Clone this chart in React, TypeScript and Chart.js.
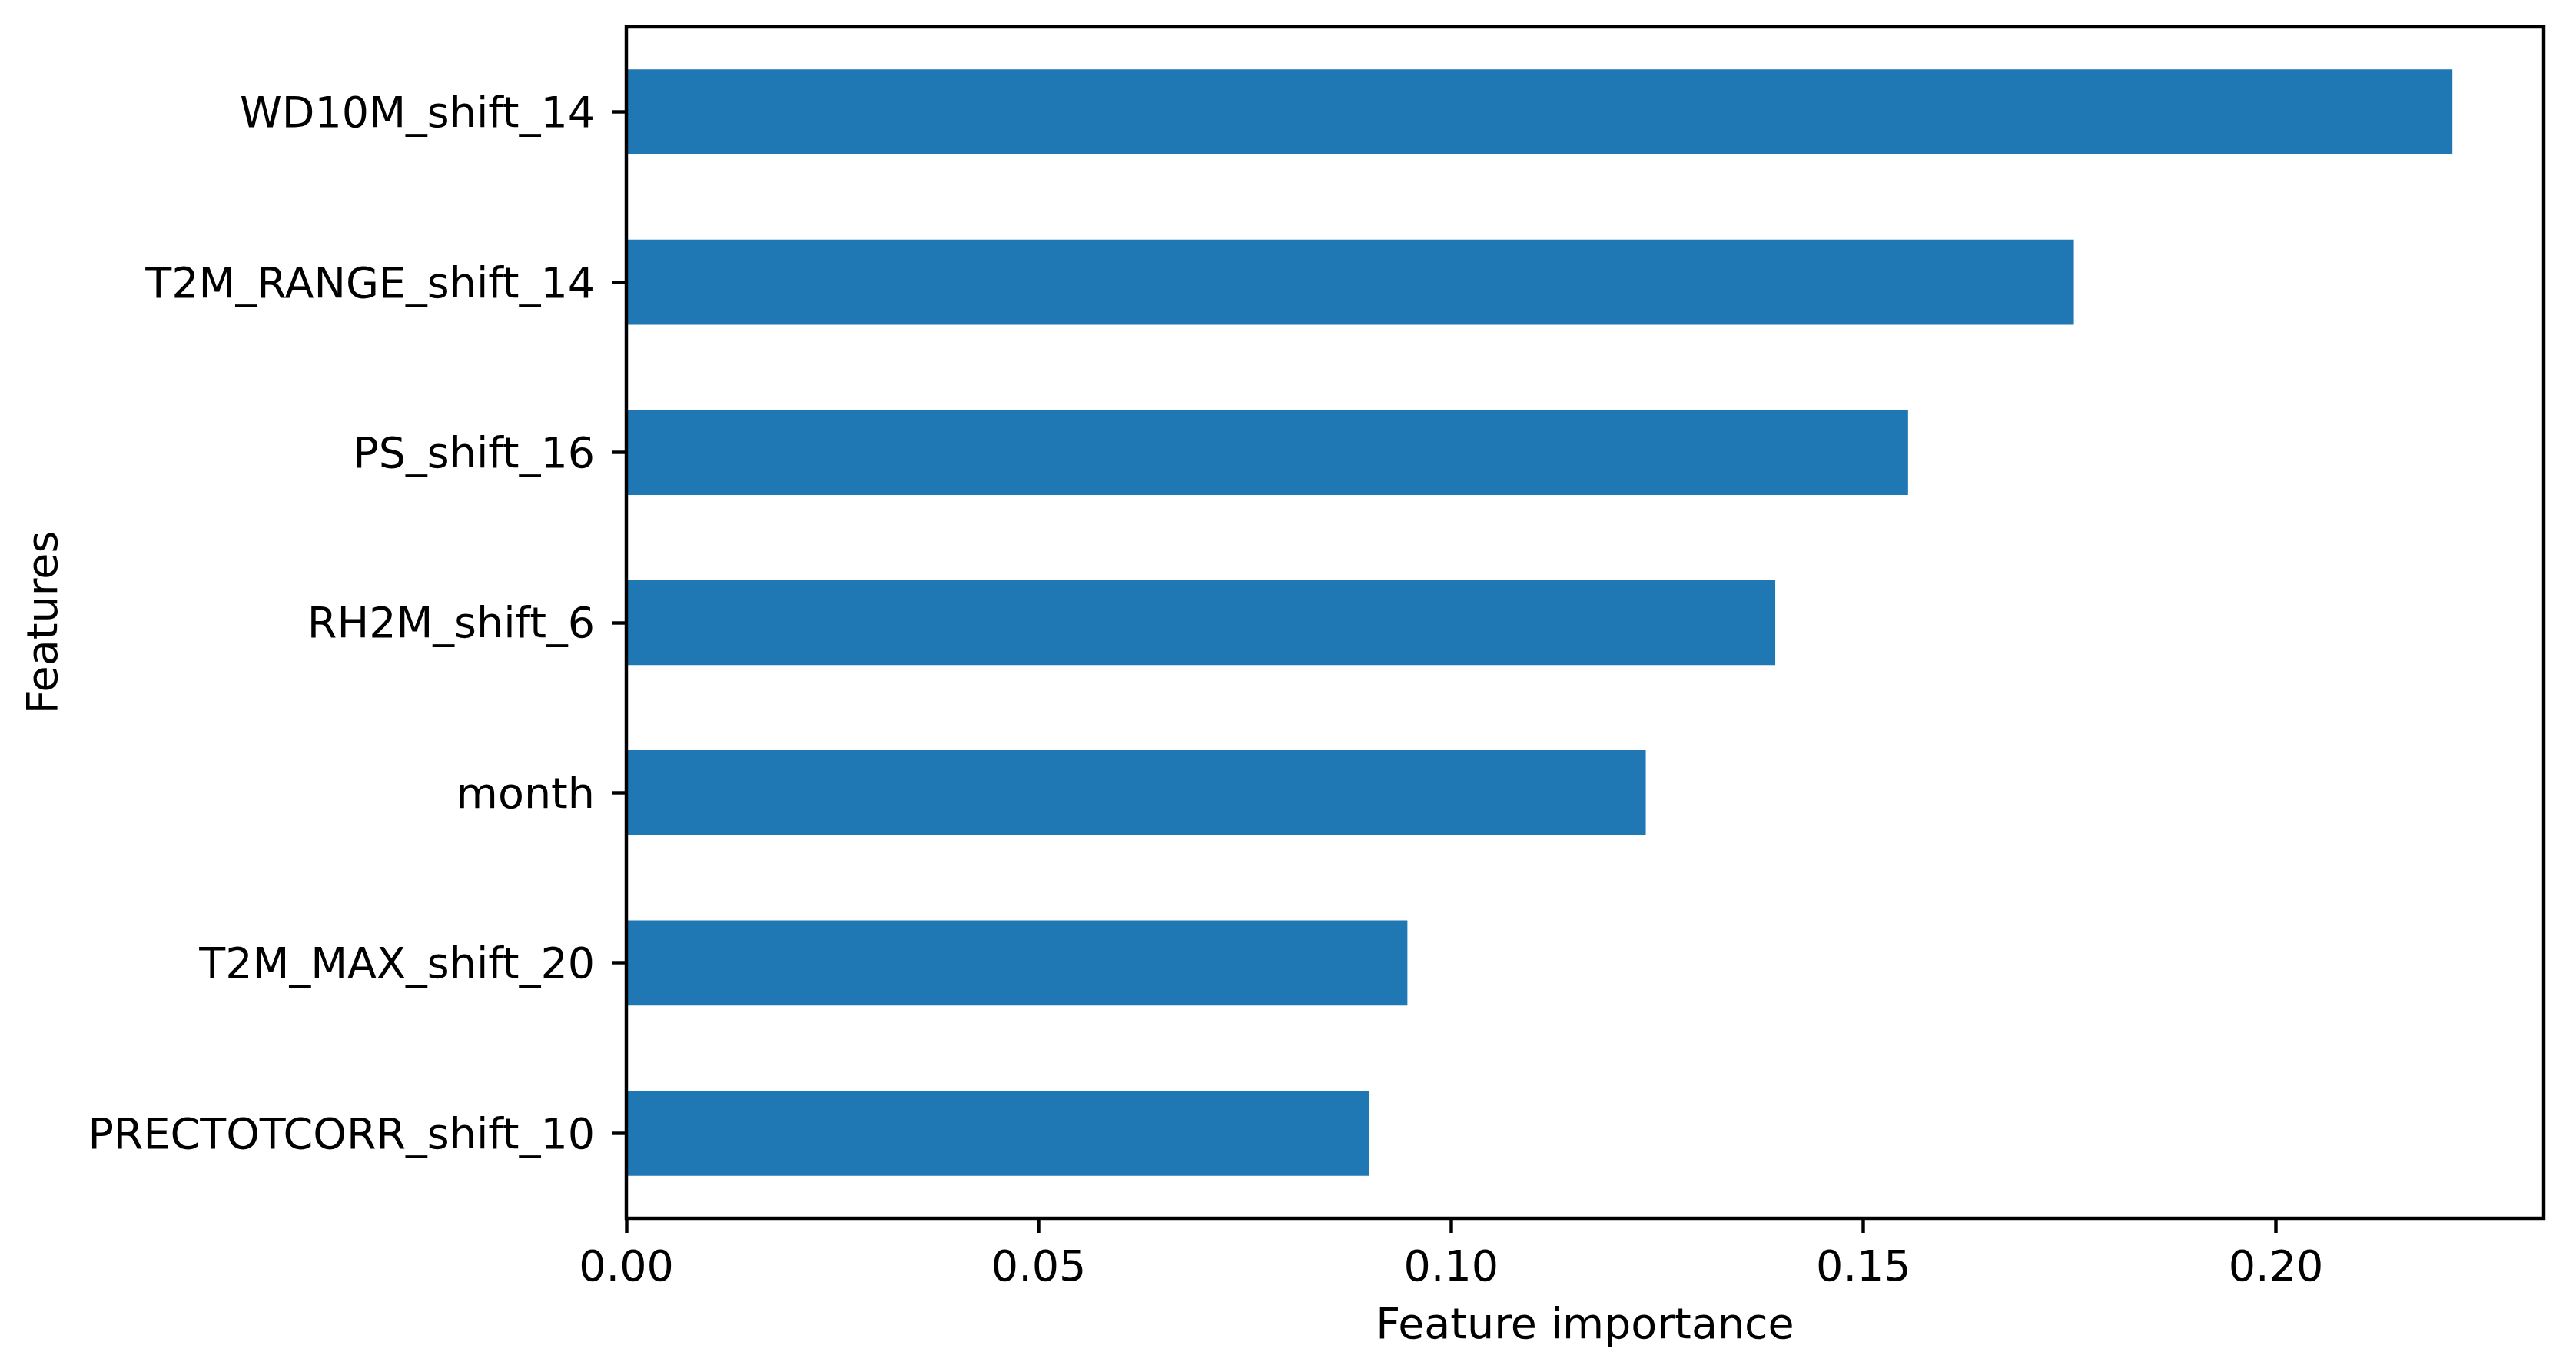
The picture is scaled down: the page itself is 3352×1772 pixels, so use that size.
import React, { useEffect, useRef } from "react";
import { Chart, registerables } from "chart.js";

Chart.register(...registerables);

const features: string[] = [
  "WD10M_shift_14",
  "T2M_RANGE_shift_14",
  "PS_shift_16",
  "RH2M_shift_6",
  "month",
  "T2M_MAX_shift_20",
  "PRECTOTCORR_shift_10",
];

const importance: number[] = [0.2214, 0.1755, 0.1554, 0.1393, 0.1236, 0.0947, 0.0901];

const xTicks: number[] = [0.0, 0.05, 0.1, 0.15, 0.2];

const xTitle = "Feature importance";
const yTitle = "Features";

const FONT = "'DejaVu Sans', 'Liberation Sans', sans-serif";
const FS = 55.5;
const LW = 4.44;

const framePlugin = {
  id: "frame",
  afterDatasetsDraw(chart: any) {
    const { ctx, chartArea } = chart;
    ctx.save();
    ctx.strokeStyle = "#000";
    ctx.lineWidth = LW;
    ctx.lineJoin = "miter";
    ctx.strokeRect(
      chartArea.left,
      chartArea.top,
      chartArea.right - chartArea.left,
      chartArea.bottom - chartArea.top
    );
    ctx.restore();
  },
};

export default function App() {
  const ref = useRef<HTMLCanvasElement | null>(null);

  useEffect(() => {
    document.body.style.margin = "0";
    const canvas = ref.current;
    if (!canvas) return;
    const xMax = Math.max(...importance) * 1.05;
    const chart = new Chart(canvas, {
      type: "bar",
      data: {
        labels: features,
        datasets: [
          {
            data: importance,
            backgroundColor: "#1f77b4",
            borderWidth: 0,
            barPercentage: 0.5,
            categoryPercentage: 1,
          },
        ],
      },
      options: {
        indexAxis: "y",
        animation: false,
        responsive: false,
        devicePixelRatio: 1,
        layout: { padding: { top: 35, right: 42, bottom: 0, left: 0 } },
        plugins: {
          legend: { display: false },
          tooltip: { enabled: false },
        },
        scales: {
          x: {
            type: "linear",
            min: 0,
            max: xMax,
            border: { display: false },
            grid: {
              drawOnChartArea: false,
              drawTicks: true,
              tickLength: 19,
              tickWidth: LW,
              tickColor: "#000",
            },
            ticks: {
              color: "#000",
              font: { family: FONT, size: FS },
              padding: 14,
              maxRotation: 0,
              autoSkip: false,
              callback: (v: any) => Number(v).toFixed(2),
            },
            afterBuildTicks: (scale: any) => {
              scale.ticks = xTicks.map((v) => ({ value: v }));
            },
            afterFit: (scale: any) => {
              scale.height = 187;
              scale.paddingLeft = 0;
              scale.paddingRight = 0;
            },
            title: {
              display: true,
              text: xTitle,
              color: "#000",
              font: { family: FONT, size: FS },
              padding: { top: 0, bottom: 12 },
            },
          },
          y: {
            type: "category",
            border: { display: false },
            grid: {
              offset: false,
              drawOnChartArea: false,
              drawTicks: true,
              tickLength: 19,
              tickWidth: LW,
              tickColor: "#000",
            },
            ticks: {
              color: "#000",
              font: { family: FONT, size: FS },
              padding: 22,
              labelOffset: 5,
              autoSkip: false,
            },
            afterFit: (scale: any) => {
              scale.width = 815;
              scale.paddingTop = 0;
              scale.paddingBottom = 0;
            },
            title: {
              display: true,
              text: yTitle,
              color: "#000",
              font: { family: FONT, size: FS },
              padding: { top: 26, bottom: 0 },
            },
          },
        },
      },
      plugins: [framePlugin],
    });
    return () => chart.destroy();
  }, []);

  return (
    <div style={{ width: 3352, height: 1772, background: "#fff" }}>
      <canvas ref={ref} width={3352} height={1772} style={{ display: "block" }} />
    </div>
  );
}
